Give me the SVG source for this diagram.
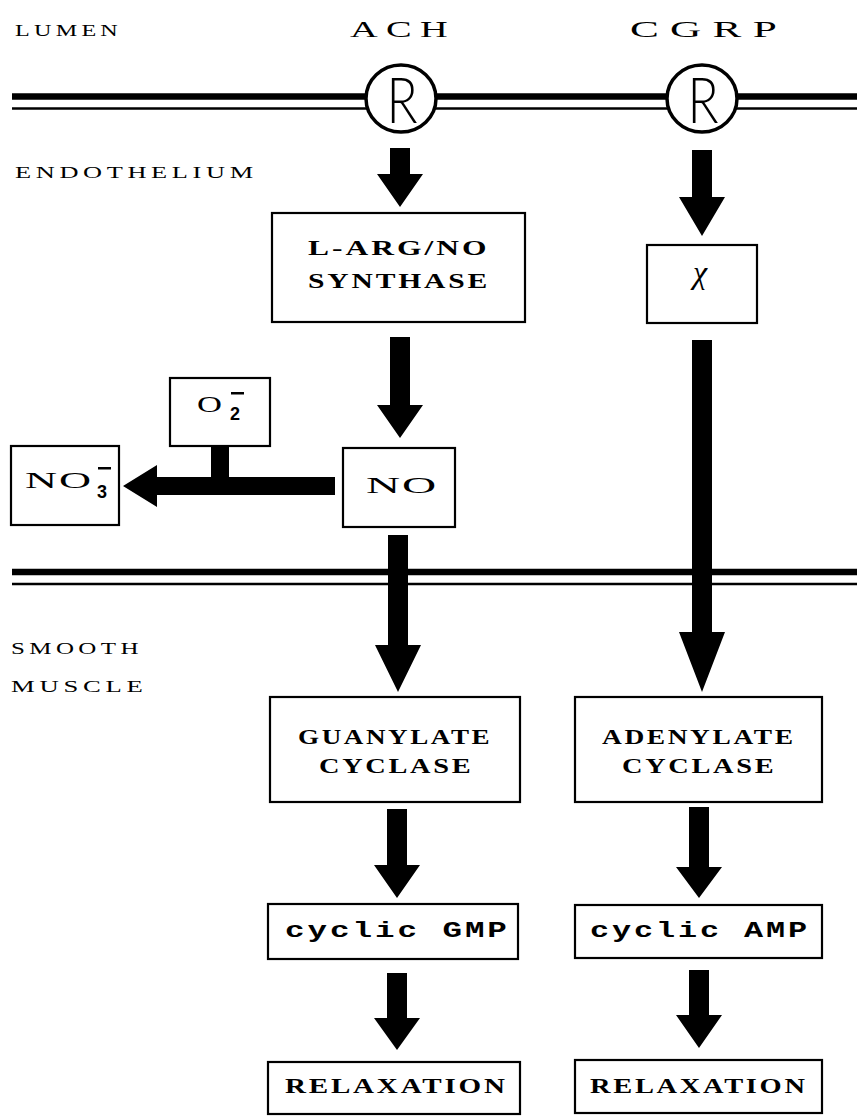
<svg xmlns="http://www.w3.org/2000/svg" width="857" height="1120" viewBox="0 0 857 1120">
<style>
.box{fill:#fff;stroke:#000;stroke-width:2.2}
.lbl{font-family:"Liberation Serif",serif;font-size:17px;letter-spacing:3px;fill:#000}
.big{font-family:"Liberation Serif",serif;font-size:23px;fill:#000}
.bt{font-family:"Liberation Serif",serif;font-weight:bold;font-size:21px;letter-spacing:2px;fill:#000}
.cy{font-family:"Liberation Mono",monospace;font-weight:bold;font-size:22px;letter-spacing:2px;fill:#000}
.ch{font-family:"Liberation Serif",serif;font-size:24px;letter-spacing:1px;fill:#000}
.sub{font-family:"Liberation Sans",sans-serif;font-weight:bold;font-size:18px;fill:#000}
.rc{fill:#fff;stroke:#000;stroke-width:3.5}
.rl{font-family:"Lato","Roboto","Liberation Sans",sans-serif;font-weight:300;font-size:54px;fill:#000;text-anchor:middle}
.arr{fill:#000}
.m1{stroke:#000;stroke-width:6.5}
.m2{stroke:#000;stroke-width:2.5}
</style>
<rect width="857" height="1120" fill="#fff"/>
<g id="membranes">
<line class="m1" x1="12" y1="96.5" x2="857" y2="96.5"/>
<line class="m2" x1="12" y1="108.5" x2="857" y2="108.5"/>
<line class="m1" x1="12" y1="572" x2="857" y2="572"/>
<line class="m2" x1="12" y1="584" x2="857" y2="584"/>
</g>
<g id="labels">
<text class="lbl" transform="translate(15,36) scale(1.42,1)">LUMEN</text>
<text class="lbl" transform="translate(15,178) scale(1.55,1)">ENDOTHELIUM</text>
<text class="lbl" transform="translate(11,654) scale(1.47,1)">SMOOTH</text>
<text class="lbl" transform="translate(11,692) scale(1.57,1)">MUSCLE</text>
</g>
<g id="node-ach">
<text class="big" letter-spacing="5" transform="translate(350,37) scale(1.67,1)">ACH</text>
</g>
<g id="node-cgrp">
<text class="big" letter-spacing="6" transform="translate(630,37) scale(1.88,1)">CGRP</text>
</g>
<g id="receptor-ach">
<ellipse class="rc" cx="401" cy="98.5" rx="35" ry="33.5"/>
<text class="rl" transform="translate(402,123) scale(0.95,1.15)">R</text>
</g>
<g id="receptor-cgrp">
<ellipse class="rc" cx="702" cy="98.5" rx="35" ry="33.5"/>
<text class="rl" transform="translate(703,123) scale(0.95,1.15)">R</text>
</g>
<g id="connectors">
<polygon class="arr" points="390,148 410,148 410,174 423,174 400,207 377,174 390,174"/>
<polygon class="arr" points="692,150 712,150 712,197 725,197 702,236 679,197 692,197"/>
<polygon class="arr" points="390,337 410,337 410,405 423,405 400,438 377,405 390,405"/>
<polygon class="arr" points="692,340 712,340 712,632 725,632 702,692 679,632 692,632"/>
<polygon class="arr" points="388,535 408,535 408,645 421,645 398,692 375,645 388,645"/>
<polygon class="arr" points="335,477 335,495 157,495 157,507 123,486 157,465 157,477"/>
<rect class="arr" x="211" y="446" width="18" height="32"/>
<polygon class="arr" points="387,809 407,809 407,865 420,865 397,898 374,865 387,865"/>
<polygon class="arr" points="689,807 709,807 709,867 722,867 699,898 676,867 689,867"/>
<polygon class="arr" points="387,973 407,973 407,1018 420,1018 397,1050 374,1018 387,1018"/>
<polygon class="arr" points="689,970 709,970 709,1015 722,1015 699,1048 676,1015 689,1015"/>
</g>
<g id="node-synthase">
<rect class="box" x="272" y="213" width="253" height="109"/>
<text class="bt" transform="translate(308,255) scale(1.5,1)">L-ARG/NO</text>
<text class="bt" transform="translate(308,288) scale(1.41,1)">SYNTHASE</text>
</g>
<g id="node-x">
<rect class="box" x="647" y="245" width="110" height="78"/>
<text x="700" y="283" font-family="Liberation Serif,serif" font-style="italic" font-size="32" text-anchor="middle">χ</text>
</g>
<g id="node-o2">
<rect class="box" x="170" y="378" width="100" height="68"/>
<text class="ch" transform="translate(197,412) scale(1.44,1)">O</text>
<text class="sub" x="230" y="420">2</text>
<rect x="231" y="392" width="13" height="2.5" fill="#000"/>
</g>
<g id="node-no3">
<rect class="box" x="11" y="446" width="108" height="79"/>
<text class="ch" transform="translate(25,488) scale(1.85,1)">NO</text>
<text class="sub" x="97" y="498">3</text>
<rect x="98" y="467" width="13" height="2.5" fill="#000"/>
</g>
<g id="node-no">
<rect class="box" x="343" y="448" width="112" height="79"/>
<text class="ch" transform="translate(366,493) scale(1.97,1)">NO</text>
</g>
<g id="node-guanylate">
<rect class="box" x="270" y="697" width="250" height="105"/>
<text class="bt" transform="translate(298,744) scale(1.29,1)">GUANYLATE</text>
<text class="bt" transform="translate(319,773) scale(1.35,1)">CYCLASE</text>
</g>
<g id="node-adenylate">
<rect class="box" x="575" y="697" width="247" height="105"/>
<text class="bt" transform="translate(602,744) scale(1.306,1)">ADENYLATE</text>
<text class="bt" transform="translate(622,773) scale(1.35,1)">CYCLASE</text>
</g>
<g id="node-cgmp">
<rect class="box" x="268" y="904" width="250" height="55"/>
<text class="cy" transform="translate(285,937) scale(1.48,1)">cyclic GMP</text>
</g>
<g id="node-camp">
<rect class="box" x="575" y="905" width="247" height="53"/>
<text class="cy" transform="translate(590,937) scale(1.447,1)">cyclic AMP</text>
</g>
<g id="node-relax1">
<rect class="box" x="268" y="1062" width="252" height="52"/>
<text class="bt" transform="translate(285,1093) scale(1.385,1)">RELAXATION</text>
</g>
<g id="node-relax2">
<rect class="box" x="575" y="1060" width="247" height="53"/>
<text class="bt" transform="translate(590,1093) scale(1.354,1)">RELAXATION</text>
</g>
</svg>
